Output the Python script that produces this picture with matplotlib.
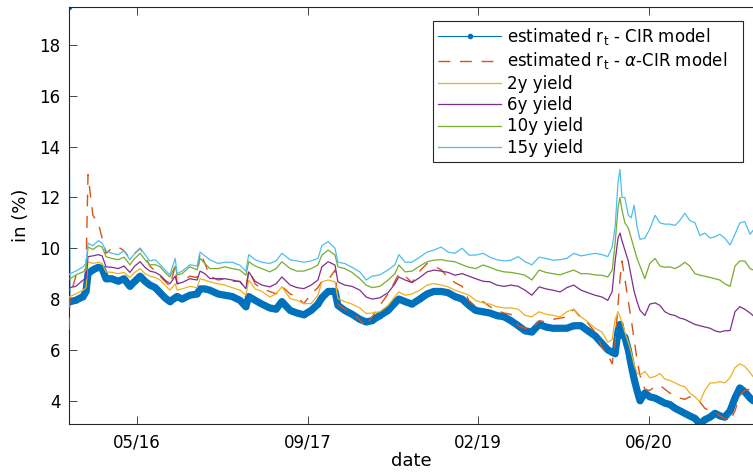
import matplotlib
matplotlib.use("Agg")
import matplotlib.pyplot as plt

# trading-day index of each sample
DAY = [
    1, 3, 15, 30, 36, 40, 50, 61, 69, 77,
    89, 102, 114, 126, 136, 147, 157, 167, 178, 188,
    198, 208, 219, 223, 233, 249, 264, 270, 280, 290,
    307, 321, 336, 352, 364, 370, 383, 397, 413, 426,
    438, 455, 469, 483, 498, 512, 520, 533, 547, 553,
    567, 582, 598, 611, 623, 639, 656, 670, 678, 691,
    705, 721, 736, 750, 765, 779, 793, 808, 822, 836,
    851, 865, 879, 894, 908, 923, 937, 951, 966, 980,
    994, 1009, 1023, 1037, 1052, 1066, 1081, 1095, 1107, 1116,
    1122, 1128, 1132, 1136, 1142, 1149, 1155, 1161, 1167, 1173,
    1183, 1193, 1204, 1214, 1224, 1234, 1245, 1255, 1265, 1275,
    1286, 1296, 1306, 1317, 1327, 1337, 1347, 1358, 1368, 1378,
    1388, 1399, 1405,
]

R_CIR = [
    19.5, 7.9, 7.95, 8.1, 8.3, 9.0, 9.15, 9.25, 9.2, 8.8,
    8.8, 8.7, 8.8, 8.5, 8.7, 8.9, 8.7, 8.55, 8.45, 8.25,
    8.05, 7.9, 8.05, 8.1, 8.0, 8.15, 8.2, 8.4, 8.4, 8.35,
    8.2, 8.15, 8.1, 7.95, 7.7, 8.1, 7.95, 7.8, 7.65, 7.6,
    7.9, 7.55, 7.45, 7.38, 7.55, 7.8, 8.05, 8.3, 8.3, 7.75,
    7.55, 7.4, 7.2, 7.1, 7.15, 7.35, 7.55, 7.85, 8.0, 7.9,
    7.8, 8.0, 8.2, 8.3, 8.3, 8.25, 8.1, 8.0, 7.75, 7.55,
    7.5, 7.45, 7.35, 7.3, 7.15, 6.95, 6.75, 6.7, 7.0, 6.9,
    6.85, 6.85, 6.85, 6.95, 6.95, 6.75, 6.55, 6.25, 6.0, 5.9,
    5.85, 6.75, 7.0, 6.6, 6.5, 6.0, 5.4, 4.85, 4.4, 4.0,
    4.3, 4.15, 4.1, 4.0, 3.9, 3.85, 3.7, 3.6, 3.5, 3.4,
    3.3, 3.08, 3.25, 3.35, 3.5, 3.4, 3.35, 3.6, 4.1, 4.5,
    4.35, 4.1, 4.0,
]

R_ALPHA_CIR = [
    6.8, 8.1, 8.9, 9.1, 9.2, 12.9, 11.3, 11.0, 10.4, 9.8,
    10.0, 10.05, 9.9, 9.6, 9.8, 10.0, 9.7, 9.3, 9.1, 8.9,
    8.7, 8.5, 9.3, 8.6, 8.7, 8.9, 8.85, 9.85, 9.4, 8.9,
    8.75, 8.8, 8.7, 8.7, 8.4, 9.14, 8.6, 8.4, 8.3, 8.2,
    8.5, 8.2, 8.1, 7.82, 8.2, 8.45, 8.7, 8.75, 9.14, 7.8,
    7.6, 7.45, 7.17, 6.9, 7.3, 7.75, 8.2, 8.7, 9.0, 8.9,
    8.65, 9.1, 9.4, 9.3, 9.15, 8.85, 8.65, 8.5, 7.94, 7.7,
    7.9, 7.7, 7.55, 7.45, 7.4, 6.95, 6.85, 6.8, 7.15, 7.1,
    7.2, 7.25, 7.3, 7.6, 7.25, 7.05, 6.7, 6.1, 5.8, 5.45,
    6.3, 7.8, 8.8, 9.5, 8.8, 7.9, 7.2, 6.4, 5.6, 5.0,
    4.45, 4.4, 4.55, 4.6, 4.45, 4.3, 4.2, 4.1, 4.05, 4.15,
    4.0, 3.95, 3.7, 3.6, 3.55, 3.4, 3.3, 3.2, 3.6, 4.2,
    4.4, 4.45, 4.45,
]

YIELD_2Y = [
    8.05, 8.1, 8.2, 8.35, 8.45, 9.47, 9.4, 9.45, 9.4, 9.07,
    9.05, 9.0, 9.05, 8.85, 9.05, 9.2, 9.0, 8.9, 8.85, 8.75,
    8.55, 8.35, 8.6, 8.35, 8.4, 8.5, 8.45, 8.8, 8.75, 8.68,
    8.6, 8.55, 8.45, 8.35, 8.15, 8.75, 8.4, 8.3, 8.08, 8.2,
    8.48, 8.02, 7.95, 7.82, 7.82, 8.15, 8.68, 8.75, 8.68, 8.02,
    7.9, 7.8, 7.65, 7.43, 7.45, 7.5, 7.75, 8.1, 8.28, 8.15,
    8.2, 8.35, 8.55, 8.61, 8.55, 8.48, 8.35, 8.25, 8.15, 7.94,
    7.85, 7.8, 7.7, 7.65, 7.65, 7.6, 7.36, 7.3, 7.5, 7.4,
    7.36, 7.3, 7.5, 7.6, 7.3, 7.1, 6.85, 6.7, 6.3, 6.4,
    7.2, 7.5, 7.3, 7.1, 6.7, 6.3, 5.9, 5.4, 5.1, 5.0,
    5.15, 4.9, 4.95, 5.07, 4.85, 4.8, 4.7, 4.6, 4.55, 4.3,
    4.15, 3.95, 4.4, 4.7, 4.7, 4.75, 4.7, 4.9, 5.3, 5.45,
    5.35, 5.1, 4.95,
]

YIELD_6Y = [
    8.35, 8.45, 8.5, 8.75, 8.8, 9.67, 9.7, 9.75, 9.7, 9.27,
    9.25, 9.2, 9.3, 9.05, 9.3, 9.47, 9.25, 9.1, 9.05, 8.94,
    8.75, 8.6, 8.9, 8.6, 8.65, 8.8, 8.75, 9.1, 9.0, 8.81,
    8.8, 8.8, 8.75, 8.68, 8.41, 9.07, 8.7, 8.55, 8.48, 8.6,
    8.87, 8.55, 8.45, 8.41, 8.55, 8.75, 9.27, 9.47, 9.34, 8.68,
    8.55, 8.5, 8.35, 8.08, 8.0, 8.05, 8.25, 8.6, 8.87, 8.75,
    8.65, 8.85, 9.07, 9.14, 9.1, 9.05, 8.94, 9.0, 8.9, 8.8,
    8.7, 8.68, 8.55, 8.5, 8.55, 8.5, 8.35, 8.15, 8.48, 8.4,
    8.35, 8.28, 8.45, 8.55, 8.35, 8.25, 8.15, 8.08, 7.95, 8.3,
    9.5, 10.4, 10.6, 10.3, 9.93, 9.5, 8.9, 8.3, 7.9, 7.56,
    7.35, 7.8, 7.85, 7.75, 7.5, 7.4, 7.35, 7.25, 7.2, 7.1,
    7.0, 6.95, 6.9, 6.85, 6.75, 6.7, 6.75, 6.76, 7.5, 7.7,
    7.6, 7.45, 7.35,
]

YIELD_10Y = [
    8.8, 8.8, 8.95, 9.07, 9.15, 10.05, 9.95, 10.1, 10.05, 9.67,
    9.6, 9.55, 9.65, 9.35, 9.6, 9.8, 9.55, 9.35, 9.35, 9.27,
    9.05, 8.87, 9.3, 8.95, 9.0, 9.27, 9.15, 9.6, 9.4, 9.2,
    9.2, 9.27, 9.2, 9.14, 8.94, 9.47, 9.3, 9.2, 9.07, 9.2,
    9.47, 9.2, 9.1, 9.1, 9.2, 9.34, 9.73, 9.93, 9.73, 9.27,
    9.2, 9.05, 8.8, 8.55, 8.45, 8.5, 8.75, 9.0, 9.34, 9.07,
    9.1, 9.3, 9.47, 9.53, 9.55, 9.5, 9.47, 9.35, 9.25, 9.2,
    9.34, 9.25, 9.14, 9.07, 9.05, 9.0, 8.94, 8.75, 9.14, 9.05,
    9.0, 8.95, 9.05, 9.14, 9.0, 9.0, 8.95, 8.94, 8.87, 9.14,
    10.2, 11.6, 12.0, 11.5, 11.0, 10.8, 10.4, 10.0, 9.6, 9.3,
    8.8, 9.4, 9.6, 9.3, 9.25, 9.27, 9.2, 9.3, 9.45, 9.3,
    9.0, 8.94, 8.9, 8.85, 8.8, 8.75, 8.6, 8.5, 9.3, 9.5,
    9.5, 9.2, 9.15,
]

YIELD_15Y = [
    8.95, 9.0, 9.1, 9.27, 9.4, 10.2, 10.1, 10.3, 10.2, 9.9,
    9.8, 9.75, 9.9, 9.55, 9.8, 10.0, 9.75, 9.5, 9.55, 9.35,
    9.15, 8.95, 9.6, 9.0, 9.1, 9.35, 9.3, 9.85, 9.7, 9.55,
    9.4, 9.45, 9.45, 9.33, 9.1, 9.75, 9.55, 9.45, 9.4, 9.5,
    9.8, 9.55, 9.5, 9.45, 9.5, 9.6, 10.1, 10.26, 10.0, 9.45,
    9.4, 9.25, 9.07, 8.75, 8.9, 8.95, 9.15, 9.35, 9.75, 9.45,
    9.45, 9.65, 9.85, 9.93, 10.05, 9.85, 9.8, 10.0, 9.73, 9.73,
    9.8, 9.65, 9.55, 9.5, 9.53, 9.67, 9.47, 9.35, 9.65, 9.6,
    9.53, 9.55, 9.6, 9.8, 9.7, 9.75, 9.8, 9.75, 9.67, 10.05,
    10.85, 12.6, 13.1, 12.0, 12.0, 11.3, 11.2, 11.7, 10.85, 10.35,
    10.4, 10.75, 11.3, 11.0, 10.95, 10.95, 10.9, 11.1, 11.38, 11.1,
    11.0, 10.5, 10.6, 10.4, 10.45, 10.55, 10.4, 10.13, 10.55, 11.0,
    11.05, 10.55, 10.7,
]

TICK_DAYS = [141, 491, 841, 1191]
TICK_LABELS = ["05/16", "09/17", "02/19", "06/20"]

LABELS = [
    r"estimated r$_\mathrm{t}$ - CIR model",
    r"estimated r$_\mathrm{t}$ - $\alpha$-CIR model",
    "2y yield",
    "6y yield",
    "10y yield",
    "15y yield",
]

C_BLUE = "#0072BD"
C_ORANGE = "#D95319"
C_YELLOW = "#EDB120"
C_PURPLE = "#7E2F8E"
C_GREEN = "#77AC30"
C_CYAN = "#4DBEEE"
AXIS_GRAY = "#262626"

W, H = 753, 475


def main():
    fig = plt.figure(figsize=(W / 100, H / 100), dpi=100)
    ax = fig.add_axes([69 / W, 51 / H, 684 / W, 417 / H])

    # the dense CIR markers read as a thick band
    ax.plot(DAY[1:], R_CIR[1:], color=C_BLUE, lw=5.2,
            solid_capstyle="round", solid_joinstyle="round", zorder=2)
    h_cir, = ax.plot(DAY, R_CIR, color=C_BLUE, lw=0.8, marker="o",
                     ms=3, zorder=2.1)
    h_alpha, = ax.plot(DAY, R_ALPHA_CIR, color=C_ORANGE, lw=1.0,
                       ls=(0, (8.5, 7)), zorder=3)
    h_2y, = ax.plot(DAY, YIELD_2Y, color=C_YELLOW, lw=0.9, zorder=4)
    h_6y, = ax.plot(DAY, YIELD_6Y, color=C_PURPLE, lw=0.9, zorder=4)
    h_10y, = ax.plot(DAY, YIELD_10Y, color=C_GREEN, lw=0.9, zorder=4)
    h_15y, = ax.plot(DAY, YIELD_15Y, color=C_CYAN, lw=0.9, zorder=4)

    all_vals = R_CIR + R_ALPHA_CIR + YIELD_2Y + YIELD_6Y + YIELD_10Y + YIELD_15Y
    ax.set_xlim(DAY[0], DAY[-1])
    ax.set_ylim(min(all_vals), max(all_vals))

    ax.set_xticks(TICK_DAYS)
    ax.set_xticklabels(TICK_LABELS)
    ax.set_yticks(range(4, 19, 2))
    ax.tick_params(axis="both", direction="in", length=5.5, width=0.6,
                   color=AXIS_GRAY, labelsize=12, labelcolor="black")
    ax.tick_params(axis="x", top=True, pad=7)
    ax.tick_params(axis="y", right=False, pad=6)
    for side in ("left", "bottom", "top"):
        ax.spines[side].set_color(AXIS_GRAY)
        ax.spines[side].set_linewidth(0.8)
    ax.spines["right"].set_visible(False)

    ax.set_xlabel("date", fontsize=13, labelpad=0)
    ax.set_ylabel("in (%)", fontsize=13, labelpad=7)

    leg = ax.legend(
        [h_cir, h_alpha, h_2y, h_6y, h_10y, h_15y], LABELS,
        loc="upper left", mode="expand",
        bbox_to_anchor=(433 / W, 1 - 159 / H, 310 / W, 138 / H),
        bbox_transform=fig.transFigure, borderaxespad=0,
        fontsize=12, handlelength=3.8, handletextpad=0.36,
        labelspacing=0.2, borderpad=0.3,
        fancybox=False, framealpha=1, edgecolor=AXIS_GRAY,
    )
    leg.get_frame().set_linewidth(0.8)

    fig.savefig("out.png", dpi=100)


if __name__ == "__main__":
    main()
